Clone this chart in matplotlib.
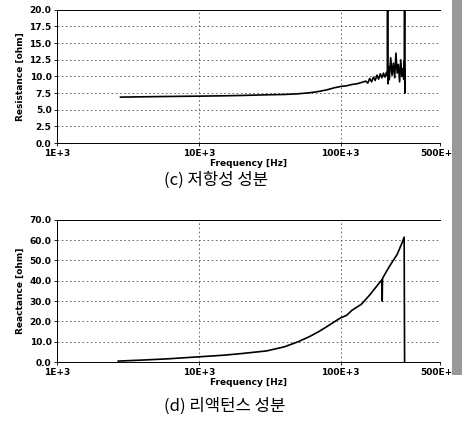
import matplotlib.pyplot as plt
from matplotlib.patches import Rectangle

# Resistance data
res_freq = [2.8e3, 4e3, 6e3, 10e3, 15e3, 20e3, 30e3, 40e3, 50e3, 60e3, 70e3, 80e3, 90e3,
            100e3, 110e3, 120e3, 130e3, 140e3, 150e3, 155e3, 160e3, 165e3, 170e3, 175e3,
            180e3, 185e3, 190e3, 195e3, 200e3, 205e3, 210e3, 213e3, 214e3, 215e3, 217e3,
            220e3, 225e3, 230e3, 235e3, 240e3, 245e3, 250e3, 255e3, 260e3, 265e3, 270e3,
            275e3, 278e3, 280e3, 281e3, 282e3, 283e3, 284e3, 285e3]
res_vals = [6.9, 6.95, 7.0, 7.05, 7.1, 7.15, 7.25, 7.3, 7.4, 7.55, 7.75, 8.0, 8.3,
            8.5, 8.6, 8.8, 8.9, 9.1, 9.3, 9.0, 9.7, 9.2, 9.9, 9.4, 10.2, 9.6, 10.4, 9.8,
            10.5, 9.9, 10.6, 10.1, 22.0, 8.9, 11.5, 9.5, 12.8, 10.2, 12.0, 9.8, 13.5, 10.5,
            11.8, 9.2, 12.5, 10.0, 11.2, 9.6, 12.3, 10.4, 22.0, 7.5, 10.5, 10.0]

# Reactance data
rea_freq = [2.7e3, 4e3, 6e3, 10e3, 15e3, 20e3, 30e3, 40e3, 50e3, 60e3, 70e3, 80e3, 90e3,
            100e3, 110e3, 120e3, 140e3, 160e3, 180e3, 195e3, 196e3, 197e3, 200e3, 220e3,
            250e3, 270e3, 280e3, 281e3, 282e3]
rea_vals = [0.5, 1.0, 1.6, 2.6, 3.4, 4.2, 5.5, 7.5, 10.0, 12.5, 15.0, 17.5, 19.8,
            21.8, 23.0, 25.5, 28.5, 33.0, 37.5, 40.5, 30.0, 41.0, 42.0, 47.0,
            53.0, 58.5, 61.5, 30.0, 0.0]

xticks = [1e3, 10e3, 100e3, 500e3]
xticklabels = ["1E+3", "10E+3", "100E+3", "500E+3"]
res_yticks = [0, 2.5, 5, 7.5, 10, 12.5, 15, 17.5, 20]
rea_yticks = [0, 10, 20, 30, 40, 50, 60, 70]

fig = plt.figure(figsize=(4.64, 4.26), dpi=100)
ax1 = fig.add_axes([0.123, 0.664, 0.825, 0.313])
ax2 = fig.add_axes([0.123, 0.150, 0.825, 0.334])

tick_font = dict(fontsize=6.5, fontweight='bold', family='DejaVu Sans')


def style(ax, yticks, ylabel):
    ax.set_xscale('log')
    ax.set_xlim(1e3, 500e3)
    ax.set_xticks(xticks)
    ax.set_xticklabels(xticklabels, **tick_font)
    ax.minorticks_off()
    ax.set_yticks(yticks)
    ax.set_yticklabels([f"{v:.1f}" for v in yticks], **tick_font)
    ax.set_ylim(yticks[0], yticks[-1])
    ax.grid(True, color='#555555', linestyle=(0, (2, 3)), linewidth=0.6)
    ax.tick_params(length=2, width=0.6, pad=2)
    for s in ax.spines.values():
        s.set_linewidth(0.7)
    ax.spines['right'].set_visible(False)
    ax.set_xlabel("Frequency [Hz]", fontsize=6.5, fontweight='bold', labelpad=1)
    ax.set_ylabel(ylabel, fontsize=6.5, fontweight='bold', labelpad=3)


ax1.plot(res_freq, res_vals, color='black', linewidth=1.2)
style(ax1, res_yticks, "Resistance [ohm]")

ax2.plot(rea_freq, rea_vals, color='black', linewidth=1.2)
style(ax2, rea_yticks, "Reactance [ohm]")

cap_font = dict(ha='center', va='center', fontsize=12,
                family=['Noto Sans CJK KR', 'DejaVu Sans'])
fig.text(0.465, 0.577, "(c) 저항성 성분", **cap_font)
fig.text(0.485, 0.047, "(d) 리액턴스 성분", **cap_font)

# scan shadow on the right edge
fig.patches.append(Rectangle((0.975, 0.12), 0.02, 0.88, transform=fig.transFigure,
                             facecolor='#999999', edgecolor='none'))

fig.savefig("out.png", dpi=100)
